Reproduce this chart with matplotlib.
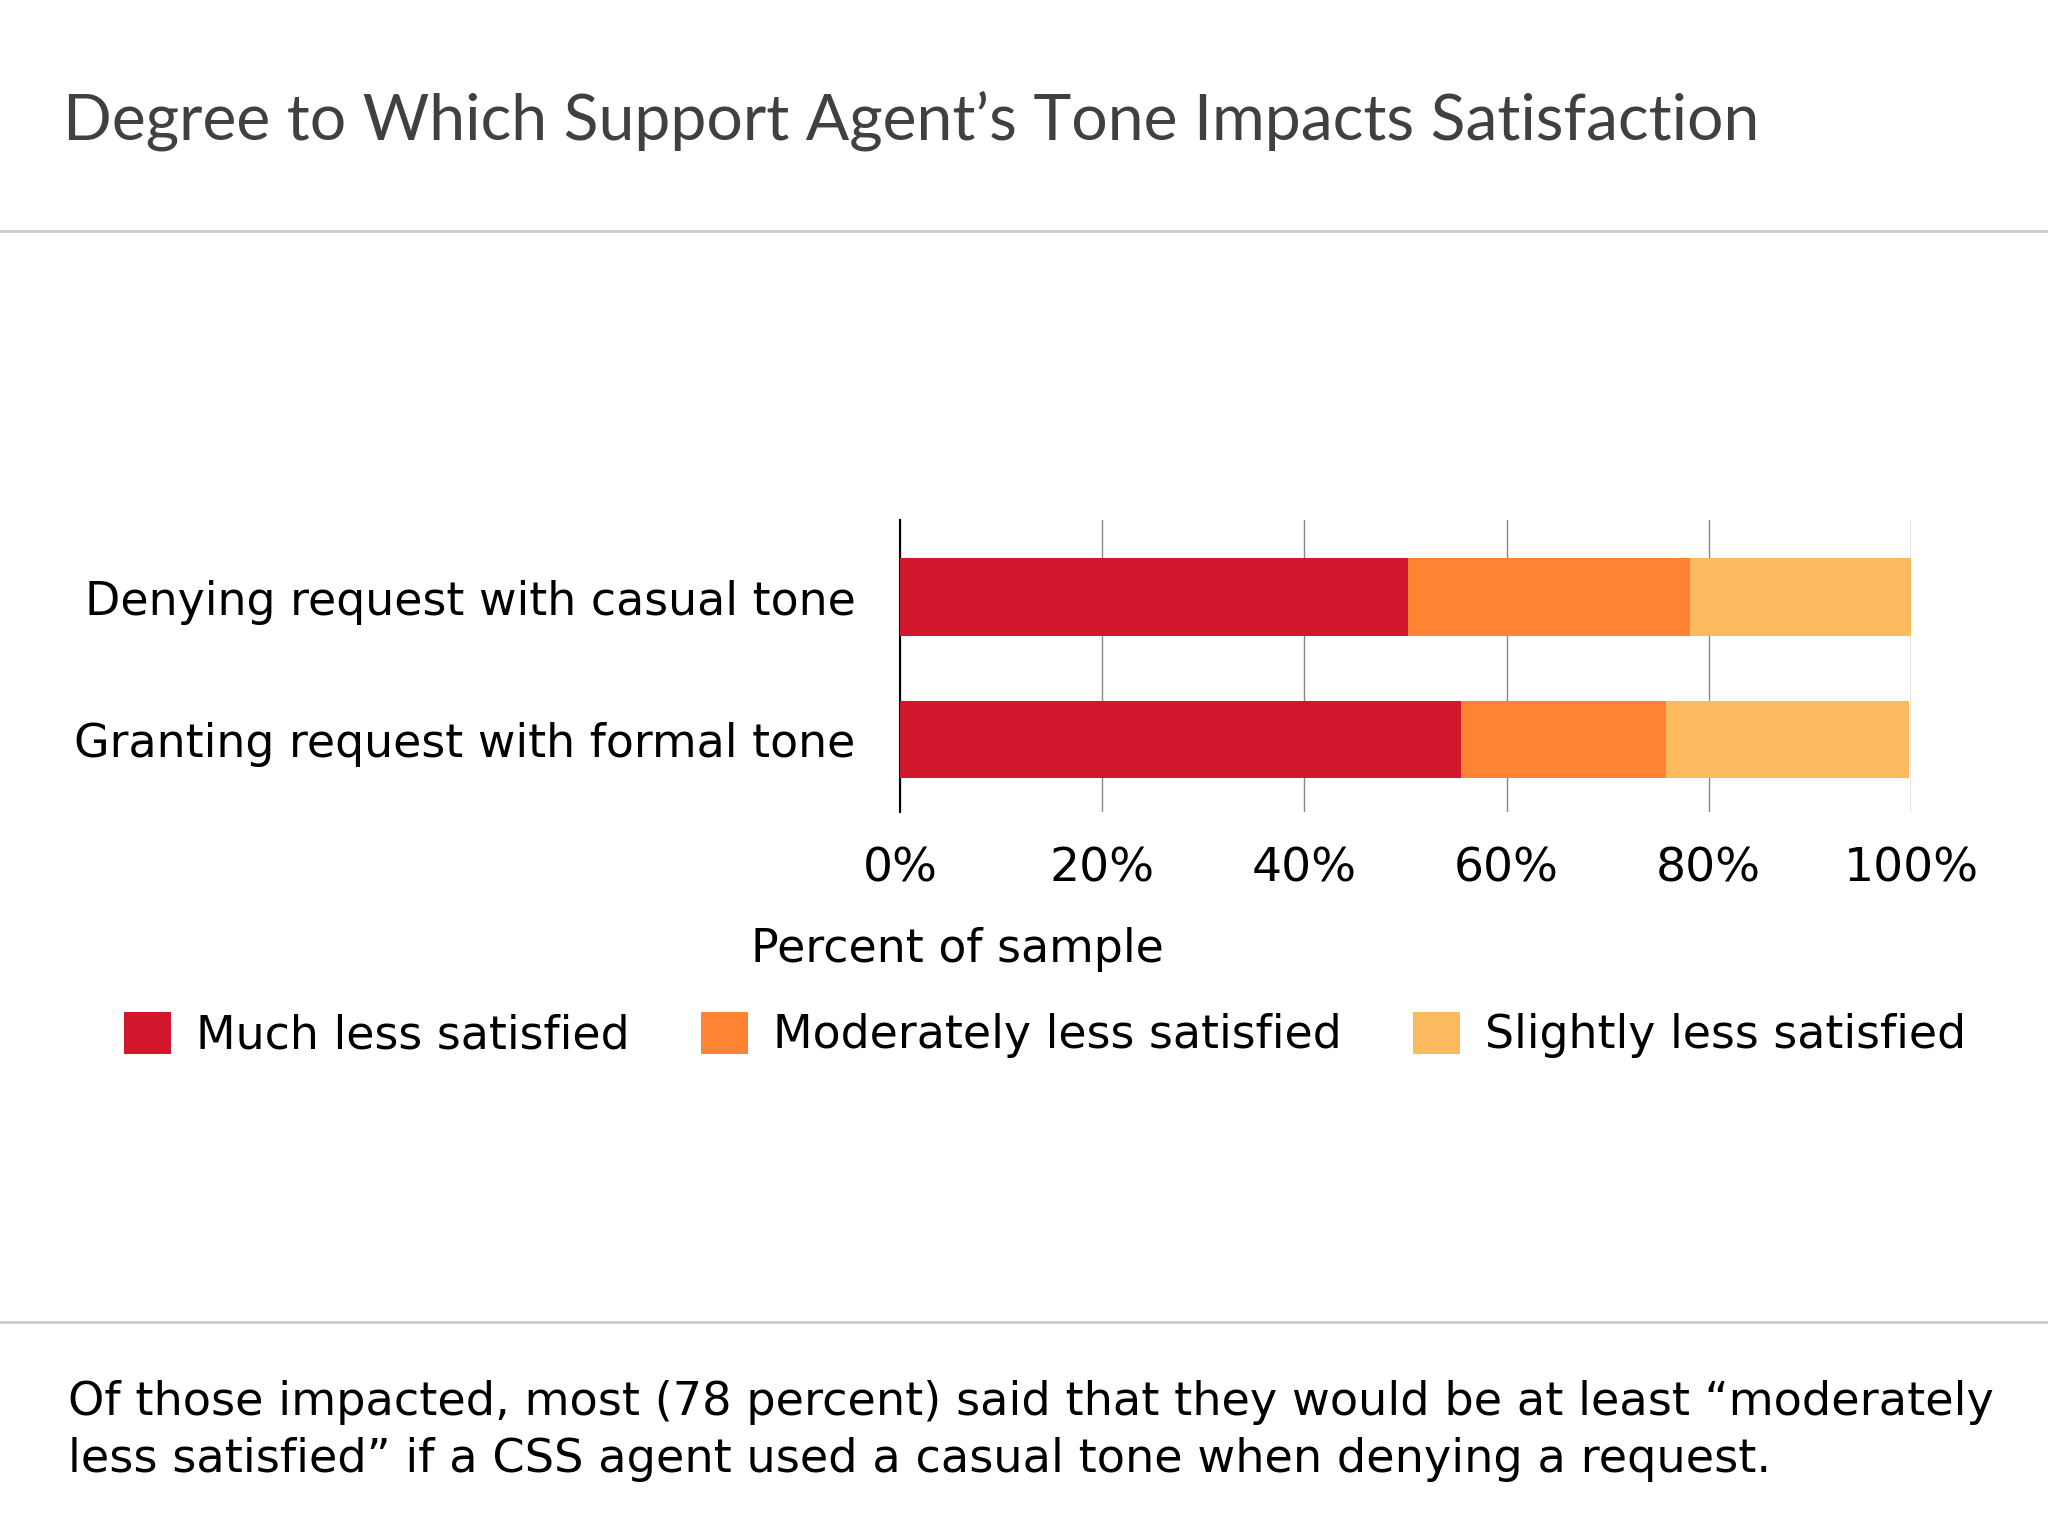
import matplotlib
matplotlib.use("Agg")
from matplotlib import pyplot as plt
from matplotlib.lines import Line2D

# data
categories = ["Granting request with formal tone", "Denying request with casual tone"]
series_names = ["Much less satisfied", "Moderately less satisfied", "Slightly less satisfied"]
much_less = [55.5, 50.2]
moderately_less = [20.3, 27.9]
slightly_less = [24.0, 21.9]
x_ticks = [0, 20, 40, 60, 80, 100]
x_tick_labels = ["0%", "20%", "40%", "60%", "80%", "100%"]

colors = ["#D0172B", "#FE8332", "#FABA5D"]

plt.rcParams["font.family"] = ["DejaVu Sans"]

fig = plt.figure(figsize=(20.48, 15.36), dpi=100)
ax = fig.add_axes([0.4395, 0.4714, 0.4936, 0.1901])

y = list(range(len(categories)))
left = [0.0] * len(categories)
bars = []
for vals, name, c in zip([much_less, moderately_less, slightly_less], series_names, colors):
    b = ax.barh(y, vals, left=left, height=0.54, color=c, label=name, zorder=3)
    bars.append(b)
    left = [l + v for l, v in zip(left, vals)]

ax.set_xlim(0, 100)
ax.set_ylim(-0.505, 1.54)
ax.set_xticks(x_ticks)
ax.set_xticklabels(x_tick_labels, fontsize=34)
ax.set_yticks(y)
ax.set_yticklabels(categories, fontsize=33)
ax.tick_params(axis="both", length=0)
ax.tick_params(axis="x", pad=25)
ax.tick_params(axis="y", pad=32)
for s in ["top", "right", "bottom"]:
    ax.spines[s].set_visible(False)
ax.spines["left"].set_color("black")
ax.spines["left"].set_linewidth(1.5)
ax.grid(axis="x", color="#888888", linewidth=1.0, zorder=0)
ax.set_axisbelow(True)

# title and separators
fig.text(63 / 2048, 1 - 121 / 1536, "Degree to Which Support Agent\u2019s Tone Impacts Satisfaction",
         fontsize=46.3, color="#404040", family=["Lato", "DejaVu Sans"], va="center", ha="left")
fig.add_artist(Line2D([0, 1], [1 - 231 / 1536] * 2, color="#cccccc", lw=2, transform=fig.transFigure))
fig.add_artist(Line2D([0, 1], [1 - 1322 / 1536] * 2, color="#cccccc", lw=2, transform=fig.transFigure))

fig.text(957 / 2048, 1 - 950 / 1536, "Percent of sample", fontsize=33, ha="center", va="center")

fig.legend(handles=bars, labels=series_names, loc="center", bbox_to_anchor=(1045 / 2048, 1 - 1035 / 1536),
           ncol=3, frameon=False, fontsize=33, handlelength=1.03, handleheight=1.03,
           handletextpad=0.55, columnspacing=1.55)

fig.text(68 / 2048, 1 - 1431 / 1536,
         "Of those impacted, most (78 percent) said that they would be at least \u201cmoderately\n"
         "less satisfied\u201d if a CSS agent used a casual tone when denying a request.",
         fontsize=33.3, ha="left", va="center", linespacing=1.36)

fig.savefig("out.png", dpi=100)
